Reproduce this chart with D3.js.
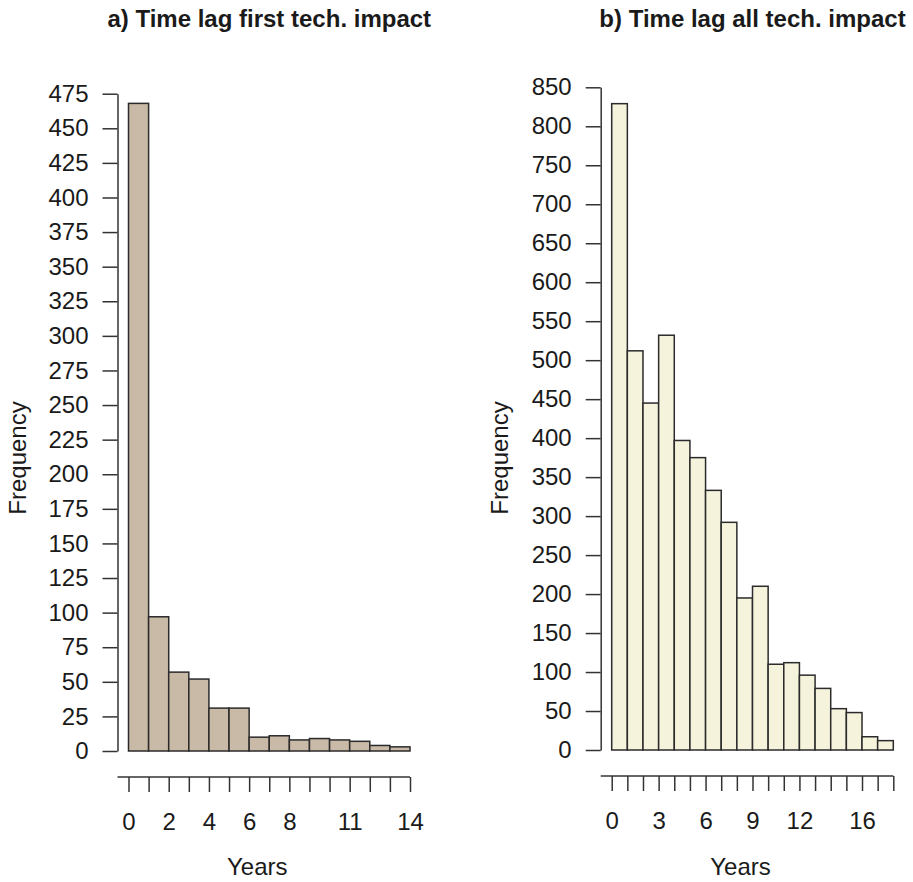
<!DOCTYPE html>
<html>
<head>
<meta charset="utf-8">
<script src="https://cdn.jsdelivr.net/npm/d3@7"></script>
<style>
  html, body { margin: 0; padding: 0; background: #fff; }
  svg { display: block; }
  text { font-family: "Liberation Sans", Arial, Helvetica, sans-serif; fill: #1a1a1a; }
</style>
</head>
<body>
<svg id="chart" width="913" height="882"></svg>
<script>
// Histogram counts per one-year bin (bin i covers [i, i+1) years)
const firstImpactCounts = [468, 97, 57, 52, 31, 31, 10, 11, 8, 9, 8, 7, 4, 3];
const allImpactCounts = [829, 512, 445, 532, 397, 375, 333, 292, 195, 210, 110, 112, 96, 79, 53, 48, 17, 12];

// Tick settings
const firstYTicks = d3.range(0, 476, 25);
const allYTicks = d3.range(0, 851, 50);
const firstXLabels = [0, 2, 4, 6, 8, 11, 14];
const allXLabels = [0, 3, 6, 9, 12, 16];

const titles = ["a) Time lag first tech. impact", "b) Time lag all tech. impact"];
const xTitle = "Years";
const yTitle = "Frequency";

const svg = d3.select("#chart");

function drawPanel(opts) {
  const g = svg.append("g");
  const nBins = opts.counts.length;
  const x = d3.scaleLinear().domain([0, nBins]).range(opts.xRange);
  const y = d3.scaleLinear().domain([0, opts.yMax]).range(opts.yRange);
  const axisX = opts.xRange[0] - 11;   // y axis sits slightly left of the first bar
  const axisY = opts.yRange[0] + 26;   // x axis sits below the bars

  // bars
  g.selectAll("rect.bar")
    .data(opts.counts)
    .join("rect")
    .attr("class", "bar")
    .attr("x", (d, i) => x(i))
    .attr("width", (d, i) => x(i + 1) - x(i))
    .attr("y", d => y(d))
    .attr("height", d => y(0) - y(d))
    .attr("fill", opts.fill)
    .attr("stroke", "#2b2b2b")
    .attr("stroke-width", 1.5);

  // y axis
  const yAxis = d3.axisLeft(y)
    .tickValues(opts.yTicks)
    .tickSize(15)
    .tickSizeOuter(0)
    .tickPadding(14);
  const gy = g.append("g")
    .attr("transform", `translate(${axisX},0)`)
    .call(yAxis);
  gy.selectAll("text").style("font-size", "24px").attr("fill", "#1a1a1a");

  // x axis: ticks at every bin edge, labels at selected years
  const xAxis = d3.axisBottom(x)
    .tickValues(d3.range(0, nBins + 1))
    .tickFormat(d => opts.xLabels.includes(d) ? d : "")
    .tickSize(15)
    .tickSizeOuter(0)
    .tickPadding(21);
  const gx = g.append("g")
    .attr("transform", `translate(0,${axisY})`)
    .call(xAxis);
  gx.select(".domain").remove();
  gx.append("line")
    .attr("x1", axisX).attr("x2", x(nBins))
    .attr("y1", 0).attr("y2", 0)
    .attr("stroke", "#333");
  gx.selectAll("text").style("font-size", "24px").attr("fill", "#1a1a1a");

  [gx, gy].forEach(a => {
    a.selectAll("line, path").attr("stroke", "#333").attr("stroke-width", 1.5);
  });

  const mid = (opts.xRange[0] + opts.xRange[1]) / 2;

  // title
  g.append("text")
    .attr("x", mid)
    .attr("y", 27)
    .attr("text-anchor", "middle")
    .style("font-size", "24px")
    .style("font-weight", "bold")
    .text(opts.title);

  // axis titles
  g.append("text")
    .attr("x", mid - 12)
    .attr("y", 875)
    .attr("text-anchor", "middle")
    .style("font-size", "24px")
    .text(xTitle);

  g.append("text")
    .attr("transform", `translate(${opts.yLabelX},458) rotate(-90)`)
    .attr("text-anchor", "middle")
    .style("font-size", "24px")
    .text(yTitle);
}

drawPanel({
  counts: firstImpactCounts,
  yMax: 475,
  yTicks: firstYTicks,
  xLabels: firstXLabels,
  xRange: [128.5, 410],
  yRange: [751, 93.7],
  fill: "#c9b9a7",
  title: titles[0],
  yLabelX: 26
});

drawPanel({
  counts: allImpactCounts,
  yMax: 850,
  yTicks: allYTicks,
  xLabels: allXLabels,
  xRange: [611.7, 893.3],
  yRange: [750, 87.3],
  fill: "#f5f3dc",
  title: titles[1],
  yLabelX: 508
});
</script>
</body>
</html>
